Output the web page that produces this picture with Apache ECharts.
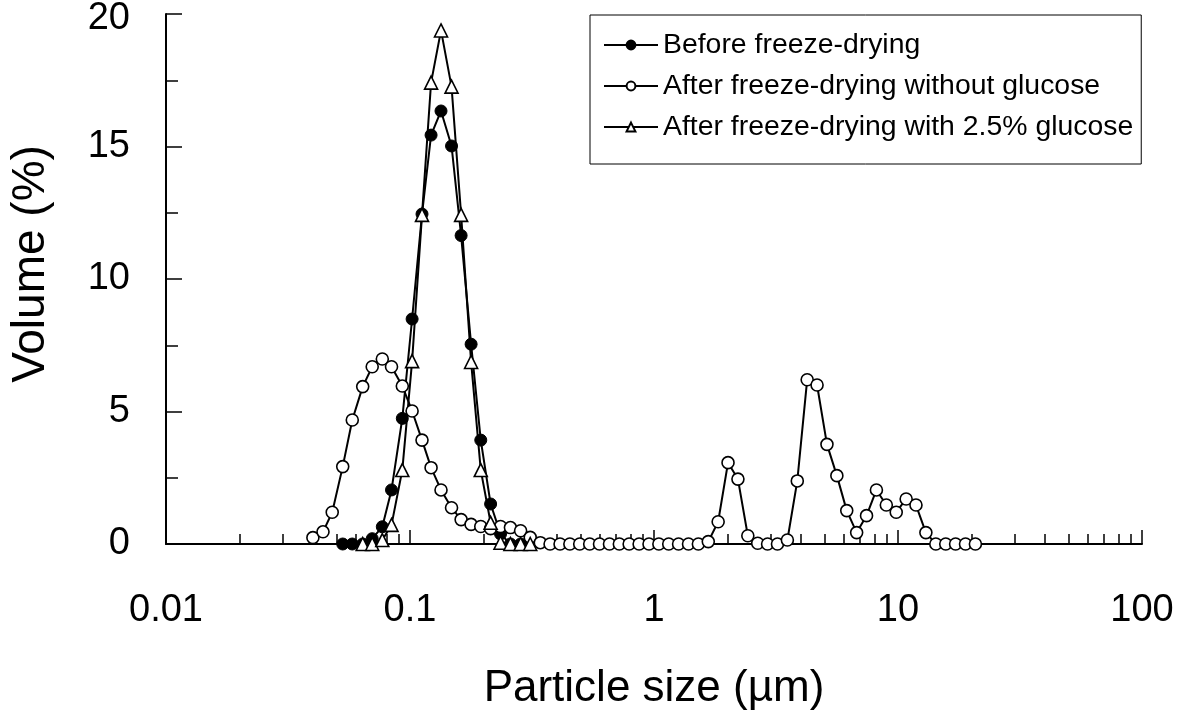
<!DOCTYPE html>
<html>
<head>
<meta charset="utf-8">
<title>Particle size distribution</title>
<script src="https://cdn.jsdelivr.net/npm/echarts@6/dist/echarts.min.js"></script>
<style>
  html, body { margin: 0; padding: 0; background: #fff; }
  #chart { width: 1180px; height: 719px; }
</style>
</head>
<body>
<div id="chart"></div>
<script>
  // particle size classes (µm), one per measured channel
  var sizes = [0.040, 0.044, 0.048, 0.053, 0.058, 0.064, 0.070, 0.077, 0.084, 0.093,
    0.102, 0.112, 0.122, 0.134, 0.148, 0.162, 0.178, 0.195, 0.214, 0.235,
    0.258, 0.284, 0.311, 0.342, 0.375, 0.412, 0.452, 0.496, 0.545, 0.598,
    0.657, 0.721, 0.791, 0.869, 0.954, 1.047, 1.149, 1.261, 1.385, 1.520,
    1.669, 1.832, 2.011, 2.208, 2.424, 2.661, 2.921, 3.207, 3.521, 3.866,
    4.244, 4.659, 5.115, 5.616, 6.165, 6.769, 7.431, 8.158, 8.957, 9.834,
    10.80, 11.85, 13.01, 14.29, 15.69, 17.22, 18.91, 20.76]

  // volume (%) per channel, null = not plotted
  var beforeFD = [null, null, null, 0, 0, 0, 0.2, 0.65, 2.04, 4.74,
    8.49, 12.45, 15.43, 16.34, 15.02, 11.64, 7.54, 3.92, 1.51, 0.38,
    0, 0, null, null, null, null, null, null, null, null,
    null, null, null, null, null, null, null, null, null, null,
    null, null, null, null, null, null, null, null, null, null,
    null, null, null, null, null, null, null, null, null, null,
    null, null, null, null, null, null, null, null]

  var afterNoGlucose = [0.24, 0.46, 1.2, 2.92, 4.68, 5.94, 6.69, 6.98, 6.69, 5.96,
    5.02, 3.92, 2.88, 2.04, 1.37, 0.92, 0.74, 0.66, 0.58, 0.66,
    0.62, 0.5, 0.25, 0.05, 0, 0, 0, 0, 0, 0,
    0, 0, 0, 0, 0, 0, 0, 0, 0, 0,
    0.09, 0.84, 3.07, 2.45, 0.31, 0.03, 0, 0, 0.15, 2.38,
    6.2, 6.0, 3.76, 2.58, 1.26, 0.43, 1.07, 2.04, 1.47, 1.2,
    1.7, 1.47, 0.43, 0, 0, 0, 0, 0]

  var afterGlucose = [null, null, null, null, null, 0, 0, 0.15, 0.72, 2.79,
    6.9, 12.42, 17.41, 19.38, 17.26, 12.42, 6.87, 2.79, 0.8, 0.05,
    0, 0, 0, null, null, null, null, null, null, null,
    null, null, null, null, null, null, null, null, null, null,
    null, null, null, null, null, null, null, null, null, null,
    null, null, null, null, null, null, null, null, null, null,
    null, null, null, null, null, null, null, null]

  var seriesNames = ['Before freeze-drying', 'After freeze-drying without glucose', 'After freeze-drying with 2.5% glucose']

  // minor ticks of the log axis
  var minorTicks = [0.02, 0.03, 0.04, 0.05, 0.06, 0.07, 0.08, 0.09,
    0.2, 0.3, 0.4, 0.5, 0.6, 0.7, 0.8, 0.9,
    2, 3, 4, 5, 6, 7, 8, 9,
    20, 30, 40, 50, 60, 70, 80, 90]

  function pairs(vals) {
    var out = []
    for (var i = 0; i < sizes.length; i++) {
      if (vals[i] !== null && vals[i] !== undefined) out.push([sizes[i], vals[i]])
    }
    return out
  }

  var font = '"Liberation Sans", Arial, sans-serif'
  var chart = echarts.init(document.getElementById('chart'), null, { renderer: 'canvas' })

  chart.setOption({
    animation: false,
    backgroundColor: '#fff',
    textStyle: { fontFamily: font, color: '#000' },
    grid: {
      left: 166,
      right: 38,
      top: 14,
      bottom: 175,
      outerBoundsMode: 'none'
    },
    legend: {
      orient: 'vertical',
      left: 590,
      top: 15,
      padding: [16, 8, 23, 13],
      itemGap: 13,
      itemWidth: 54,
      itemHeight: 11,
      borderColor: '#000',
      borderWidth: 1,
      textStyle: { fontFamily: font, fontSize: 28.4, color: '#000' },
      data: seriesNames
    },
    xAxis: [{
      type: 'log',
      logBase: 10,
      min: 0.01,
      max: 100,
      name: 'Particle size (µm)',
      nameLocation: 'middle',
      nameGap: 123,
      nameTextStyle: { fontFamily: font, fontSize: 44, color: '#000' },
      axisLine: { lineStyle: { color: '#000', width: 2 } },
      axisTick: { inside: true, length: 14, lineStyle: { color: '#000', width: 1.5 } },
      axisLabel: { margin: 48, fontFamily: font, fontSize: 38, color: '#000' },
      splitLine: { show: false }
    }, {
      // second copy of the axis only for the small ticks
      type: 'log',
      logBase: 10,
      min: 0.01,
      max: 100,
      position: 'bottom',
      axisLine: { show: false },
      axisTick: { inside: true, length: 10, customValues: minorTicks, lineStyle: { color: '#000', width: 1.5 } },
      axisLabel: { show: false },
      splitLine: { show: false }
    }],
    yAxis: {
      type: 'value',
      min: 0,
      max: 20,
      interval: 5,
      name: 'Volume (%)',
      nameLocation: 'middle',
      nameGap: 112,
      nameTextStyle: { fontFamily: font, fontSize: 46, color: '#000', padding: [0, 0, 0, 30] },
      axisLine: { show: true, lineStyle: { color: '#000', width: 2 } },
      axisTick: { show: true, inside: true, length: 16, lineStyle: { color: '#000', width: 1.5 } },
      minorTick: { show: true, splitNumber: 2, length: 12, lineStyle: { color: '#000', width: 1.5 } },
      axisLabel: {
        margin: 36,
        fontFamily: font,
        fontSize: 38,
        color: '#000',
        // top label sits a little lower so it is not cut off
        formatter: function (v) {
          return v === 20 ? '{top|20}' : String(v)
        },
        rich: {
          top: { fontFamily: font, fontSize: 38, color: '#000', padding: [10, 0, 0, 0] }
        }
      },
      splitLine: { show: false }
    },
    series: [{
      name: seriesNames[0],
      type: 'line',
      data: pairs(beforeFD),
      symbol: 'circle',
      symbolSize: 12,
      showAllSymbol: true,
      lineStyle: { color: '#000', width: 2 },
      itemStyle: { color: '#000', borderColor: '#000', borderWidth: 1 },
      emphasis: { disabled: true }
    }, {
      name: seriesNames[1],
      type: 'line',
      data: pairs(afterNoGlucose),
      symbol: 'circle',
      symbolSize: 12,
      showAllSymbol: true,
      lineStyle: { color: '#000', width: 2 },
      itemStyle: { color: '#fff', borderColor: '#000', borderWidth: 1.6 },
      emphasis: { disabled: true }
    }, {
      name: seriesNames[2],
      type: 'line',
      data: pairs(afterGlucose),
      symbol: 'triangle',
      symbolSize: 13,
      showAllSymbol: true,
      lineStyle: { color: '#000', width: 2 },
      itemStyle: { color: '#fff', borderColor: '#000', borderWidth: 1.6 },
      emphasis: { disabled: true }
    }]
  })
</script>
</body>
</html>
